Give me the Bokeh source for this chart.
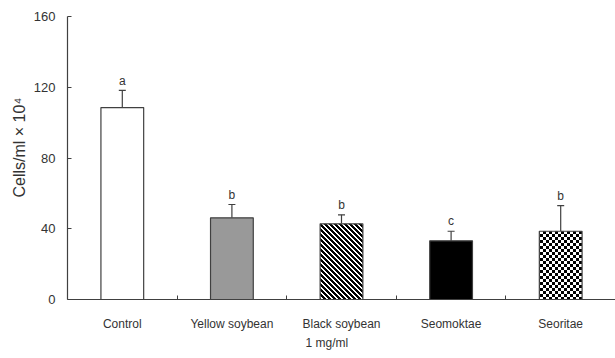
from bokeh.plotting import figure
from bokeh.models import (ColumnDataSource, FixedTicker, Whisker, TeeHead, Title,
                          CanvasTexture)
from bokeh.core.properties import value
from bokeh.embed import file_html
from bokeh.resources import INLINE

categories = ["Control", "Yellow soybean", "Black soybean", "Seomoktae", "Seoritae"]
means = [108.5, 46.2, 42.8, 33.2, 38.6]
errors = [9.7, 7.5, 5.1, 5.4, 14.5]
letters = ["a", "b", "b", "c", "b"]
y_ticks = [0, 40, 80, 120, 160]

fills = ["white", "#999999", "white", "black", "white"]
hatches = [" ", " ", "diag", " ", "chk"]

FONT = "Liberation Sans"
xs = [i + 0.5 for i in range(len(categories))]
tops = [m + e for m, e in zip(means, errors)]
src = ColumnDataSource(dict(x=xs, top=means, upper=tops, label_y=[t + 5.5 for t in tops],
                            letter=letters, fill=fills, hatch=hatches))

p = figure(width=615, height=358, x_range=(0, len(categories)), y_range=(0, 160),
           output_backend="svg", toolbar_location=None,
           min_border_left=67, min_border_right=0, min_border_top=16, min_border_bottom=59)
p.outline_line_color = None
p.xgrid.grid_line_color = None
p.ygrid.grid_line_color = None
p.background_fill_color = "white"
p.border_fill_color = "white"

checker = CanvasTexture(code="""
ctx.canvas.width = 6;
ctx.canvas.height = 6;
ctx.fillStyle = "#ffffff";
ctx.fillRect(0, 0, 6, 6);
ctx.fillStyle = "#000000";
ctx.fillRect(0, 0, 3, 3);
ctx.fillRect(3, 3, 3, 3);
""", repetition="repeat")

diag = CanvasTexture(code="""
const n = 5;
ctx.canvas.width = n;
ctx.canvas.height = n;
ctx.fillStyle = "#ffffff";
ctx.fillRect(0, 0, n, n);
ctx.fillStyle = "#000000";
for (let y = 0; y < n; y++) {
  for (let x = 0; x < n; x++) {
    if ((((x - y) % n) + n) % n < 3) { ctx.fillRect(x, y, 1, 1); }
  }
}
""", repetition="repeat")

p.vbar(x="x", top="top", width=0.39, bottom=0, source=src, fill_color="fill",
       line_color="#404040", line_width=1.2, hatch_pattern="hatch", hatch_color="black",
       hatch_scale=6, hatch_weight=2, hatch_extra={"chk": checker, "diag": diag})

w = Whisker(base="x", lower="top", upper="upper", source=src, line_color="#404040",
            line_width=1.2, upper_head=TeeHead(size=7, line_color="#404040", line_width=1.2),
            lower_head=None)
p.add_layout(w)

p.text(x="x", y="label_y", text="letter", source=src, text_align="center",
       text_baseline="alphabetic", text_font=value(FONT), text_font_size="12px",
       text_color="#333333")

# axes
p.yaxis.ticker = FixedTicker(ticks=y_ticks)
p.yaxis.major_tick_in = 4
p.yaxis.major_tick_out = 0
p.yaxis.minor_tick_line_color = None
p.yaxis.major_label_text_font = FONT
p.yaxis.major_label_text_font_size = "13px"
p.yaxis.major_label_text_color = "#333333"
p.yaxis.major_label_standoff = 12

p.xaxis.ticker = FixedTicker(ticks=xs, minor_ticks=[i + 1.0 for i in range(len(categories) - 1)])
p.xaxis.major_label_overrides = {x: c for x, c in zip(xs, categories)}
p.xaxis.major_tick_in = 0
p.xaxis.major_tick_out = 0
p.xaxis.minor_tick_in = 4
p.xaxis.minor_tick_out = 0
p.xaxis.minor_tick_line_color = "#404040"
p.xaxis.major_label_text_font = FONT
p.xaxis.major_label_text_font_size = "12px"
p.xaxis.major_label_text_color = "#333333"
p.xaxis.major_label_standoff = 17

for ax in (p.xaxis, p.yaxis):
    ax.axis_line_color = "#404040"
    ax.axis_line_width = 1.2
p.xaxis.major_tick_line_color = None
p.yaxis.major_tick_line_color = "#404040"

p.add_layout(Title(text="Cells/ml \u00d7 10\u2074", align="left", offset=102,
                   text_font=FONT, text_font_size="16px", text_font_style="normal",
                   text_color="#333333", standoff=6), "left")
p.add_layout(Title(text="1 mg/ml", align="left", offset=238,
                   text_font=FONT, text_font_size="12px", text_font_style="normal",
                   text_color="#333333", standoff=0), "below")

open("out.html", "w").write(file_html(p, INLINE))
